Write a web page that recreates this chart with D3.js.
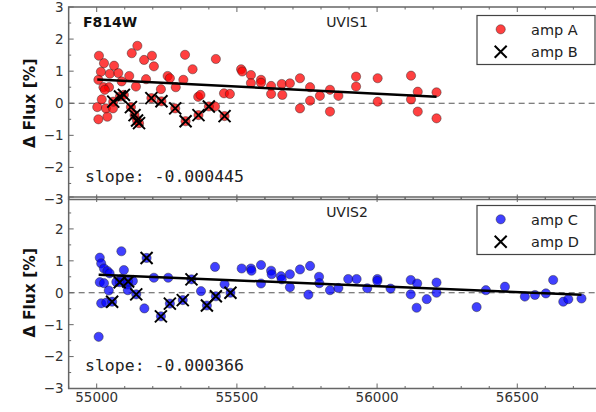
<!DOCTYPE html>
<html>
<head>
<meta charset="utf-8">
<script src="https://cdn.jsdelivr.net/npm/d3@7"></script>
<style>
  html, body { margin: 0; padding: 0; background: #fff; }
  svg { display: block; }
</style>
</head>
<body>
<svg id="chart" width="596" height="412"></svg>
<script>
// Photometric stability of F814W on the two UVIS chips: [MJD, ΔFlux %]
const ampA = [
  [55008,1.48],[55026,1.25],[55015,0.98],[55006,0.73],[55024,0.50],[55044,0.50],[55029,0.42],
  [55038,-0.42],[55006,-0.50],[55002,-0.12],[55018,0.12],[55033,-0.16],[55058,-0.16],[55047,0.92],
  [55062,1.17],[55077,0.94],[55089,0.68],[55116,0.85],[55125,1.56],[55145,1.79],[55140,0.52],
  [55169,1.35],[55176,0.75],[55197,1.48],[55204,1.15],[55229,0.44],[55253,0.85],[55261,0.78],
  [55282,0.50],[55309,0.73],[55315,1.51],[55342,1.06],[55362,0.20],[55370,0.26],[55425,1.38],
  [55422,-0.10],[55454,0.31],[55475,0.29],[55515,1.06],[55519,0.99],[55550,0.88],[55550,0.63],
  [55586,0.73],[55586,0.64],[55622,0.54],[55622,0.29],[55660,0.60],[55662,0.26],[55689,0.62],
  [55725,0.78],[55725,-0.16],[55761,0.50],[55761,0.08],[55796,0.23],[55832,0.42],[55832,-0.26],
  [55862,0.23],[55925,0.83],[55925,0.52],[56002,0.78],[56002,0.05],[56121,0.86],[56121,0.12],
  [56145,0.36],[56145,-0.26],[56212,0.34],[56212,-0.47]
];
const ampB = [
  [55059,0.05],[55083,0.21],[55097,0.26],[55122,-0.12],[55135,-0.37],[55144,-0.54],[55151,-0.62],
  [55195,0.16],[55231,0.06],[55280,-0.16],[55317,-0.56],[55363,-0.37],[55400,-0.10],[55456,-0.40]
];
const ampC = [
  [55011,1.10],[55016,0.92],[55026,0.76],[55038,0.68],[55046,0.61],[55011,0.33],[55026,0.30],
  [55043,0.07],[55016,-0.33],[55034,-0.31],[55007,-1.38],[55088,1.30],[55097,0.71],[55088,0.43],
  [55109,0.26],[55129,0.37],[55111,0.08],[55070,0.34],[55170,-0.49],[55204,0.47],[55255,0.47],
  [55372,0.05],[55422,0.81],[55456,0.27],[55517,0.76],[55550,0.76],[55552,0.69],[55586,0.87],
  [55586,0.29],[55622,0.69],[55624,0.58],[55657,0.52],[55660,0.42],[55689,0.58],[55689,0.17],
  [55725,0.73],[55761,0.84],[55755,-0.06],[55793,0.50],[55794,0.30],[55832,0.08],[55862,0.15],
  [55897,0.43],[55927,0.43],[55965,0.14],[56001,0.43],[56001,0.37],[56048,0.13],[56120,0.40],
  [56120,-0.05],[56143,0.29],[56141,-0.47],[56177,-0.20],[56212,0.32],[56212,0.00],[56355,-0.45],
  [56388,0.08],[56456,0.19],[56527,-0.12],[56563,-0.07],[56602,-0.02],[56628,0.40],[56664,-0.28],
  [56682,-0.20],[56729,-0.18]
];
const ampD = [
  [55055,-0.28],[55082,0.33],[55112,0.35],[55141,-0.05],[55178,1.09],[55229,-0.74],[55261,-0.34],
  [55307,-0.23],[55338,0.42],[55393,-0.40],[55425,-0.11],[55477,0.00]
];

// Linear trends (ΔFlux at MJD 55000 and slope per day)
const trendUVIS1 = { at55000: 0.74, slope: -0.000445 };
const trendUVIS2 = { at55000: 0.57, slope: -0.000366 };

const xTickLabels = [55000, 55500, 56000, 56500];
const yTicks = [-3, -2, -1, 0, 1, 2, 3];

const svg = d3.select("#chart");
svg.append("rect").attr("width", 596).attr("height", 412).attr("fill", "#fff");

const x = d3.scaleLinear().domain([54900, 56800]).range([68.66, 601.4]);
const left = x.range()[0], right = x.range()[1];

const panels = [
  { chip: "UVIS1", circles: ampA, crosses: ampB, labels: ["amp A", "amp B"],
    color: "#ff0000", trend: trendUVIS1, yRange: [199.5, 7], filter: "F814W",
    showTop: true, showXLabels: false },
  { chip: "UVIS2", circles: ampC, crosses: ampD, labels: ["amp C", "amp D"],
    color: "#0000ff", trend: trendUVIS2, yRange: [388.5, 197], filter: null,
    showTop: false, showXLabels: true }
];

const spine = "#666";
const tickText = "#333";
const font = "DejaVu Sans, sans-serif";
const R = 4.6;

function crossPath(cx, cy, s) {
  return `M${cx - s},${cy - s}L${cx + s},${cy + s}M${cx - s},${cy + s}L${cx + s},${cy - s}`;
}

function dot(sel, color) {
  return sel.attr("r", R)
    .attr("fill", color).attr("fill-opacity", 0.75)
    .attr("stroke", "#222").attr("stroke-opacity", 0.55).attr("stroke-width", 0.8);
}

panels.forEach(p => {
  const y = d3.scaleLinear().domain([-3, 3]).range(p.yRange);
  const top = p.yRange[1], bottom = p.yRange[0];
  const g = svg.append("g");

  // zero reference line
  g.append("line")
    .attr("x1", left).attr("x2", right)
    .attr("y1", y(0)).attr("y2", y(0))
    .attr("stroke", "#555").attr("stroke-width", 1)
    .attr("stroke-dasharray", "6,4");

  // every point of the chip as a circle; the second amp is then marked with a cross
  const all = p.circles.concat(p.crosses);
  g.selectAll("circle.pt").data(all).join("circle")
    .attr("class", "pt")
    .attr("cx", d => x(d[0])).attr("cy", d => y(d[1]))
    .call(dot, p.color);

  g.selectAll("path.cross").data(p.crosses).join("path")
    .attr("class", "cross")
    .attr("d", d => crossPath(x(d[0]), y(d[1]), 6))
    .attr("stroke", "#000").attr("stroke-width", 2).attr("fill", "none");

  // trend line over the full span of both amps
  const x0 = d3.min(all, d => d[0]), x1 = d3.max(all, d => d[0]);
  const f = t => p.trend.at55000 + p.trend.slope * (t - 55000);
  g.append("path")
    .attr("d", d3.line()([[x(x0), y(f(x0))], [x(x1), y(f(x1))]]))
    .attr("stroke", "#000").attr("stroke-width", 2.5).attr("fill", "none");

  // spines
  g.append("path")
    .attr("d", `M${right},${top}L${left},${top}L${left},${bottom}L${right},${bottom}`)
    .attr("fill", "none").attr("stroke", spine).attr("stroke-width", 1.5);

  // y ticks (inward), major each unit and minor each half-unit
  d3.range(-3, 3.01, 0.5).forEach(v => {
    const major = Math.abs(v - Math.round(v)) < 1e-6;
    g.append("line")
      .attr("x1", left).attr("x2", left + (major ? 5 : 2.5))
      .attr("y1", y(v)).attr("y2", y(v))
      .attr("stroke", spine).attr("stroke-width", 1);
  });
  yTicks.forEach(v => {
    if (!p.showTop && v === 3) return;
    g.append("text")
      .attr("x", left - 5).attr("y", y(v))
      .attr("dy", "0.36em").attr("text-anchor", "end")
      .attr("font-family", font).attr("font-size", 13.5).attr("fill", tickText)
      .text(d3.format("")(v).replace("-", "\u2212"));
  });

  // x ticks (inward) on top and bottom spines
  d3.range(54900, 56801, 100).forEach(v => {
    const major = v % 500 === 0;
    const len = major ? 5 : 2.5;
    g.append("line").attr("x1", x(v)).attr("x2", x(v))
      .attr("y1", bottom).attr("y2", bottom - len)
      .attr("stroke", spine).attr("stroke-width", 1);
    g.append("line").attr("x1", x(v)).attr("x2", x(v))
      .attr("y1", top).attr("y2", top + len)
      .attr("stroke", spine).attr("stroke-width", 1);
  });
  if (p.showXLabels) {
    xTickLabels.forEach(v => {
      g.append("text")
        .attr("x", x(v)).attr("y", bottom + 13.5)
        .attr("text-anchor", "middle")
        .attr("font-family", font).attr("font-size", 13.5).attr("fill", tickText)
        .text(v);
    });
  }

  // axis title
  g.append("text")
    .attr("transform", `translate(30,${y(0)}) rotate(-90)`)
    .attr("text-anchor", "middle").attr("dy", "0.35em")
    .attr("font-family", font).attr("font-size", 15.5).attr("font-weight", "bold")
    .attr("fill", "#111")
    .text("\u0394 Flux [%]");

  // annotations
  if (p.filter) {
    g.append("text").attr("x", 83).attr("y", top + 20)
      .attr("font-family", font).attr("font-size", 14).attr("font-weight", "bold")
      .attr("fill", "#111").text(p.filter);
  }
  g.append("text").attr("x", 347).attr("y", top + 20)
    .attr("text-anchor", "middle")
    .attr("font-family", font).attr("font-size", 14).attr("fill", "#222")
    .text(p.chip);
  g.append("text").attr("x", 85).attr("y", bottom - 17.5)
    .attr("font-family", "DejaVu Sans Mono, monospace").attr("font-size", 16.5)
    .attr("fill", "#222")
    .text("slope: " + p.trend.slope.toFixed(6));

  // legend
  const lx = 477, ly = top + 8.5, lw = 118, lh = 49;
  const lg = g.append("g");
  lg.append("rect").attr("x", lx).attr("y", ly).attr("width", lw).attr("height", lh)
    .attr("fill", "#fff").attr("stroke", "#444").attr("stroke-width", 1.2);
  lg.append("circle").attr("cx", lx + 23.7).attr("cy", ly + 13.8).call(dot, p.color);
  lg.append("path").attr("d", crossPath(lx + 23.7, ly + 36.2, 6))
    .attr("stroke", "#000").attr("stroke-width", 2).attr("fill", "none");
  p.labels.forEach((t, i) => {
    lg.append("text").attr("x", lx + 54).attr("y", ly + 13.8 + i * 22.4)
      .attr("dy", "0.36em")
      .attr("font-family", font).attr("font-size", 14.5).attr("fill", "#222")
      .text(t);
  });
});
</script>
</body>
</html>
